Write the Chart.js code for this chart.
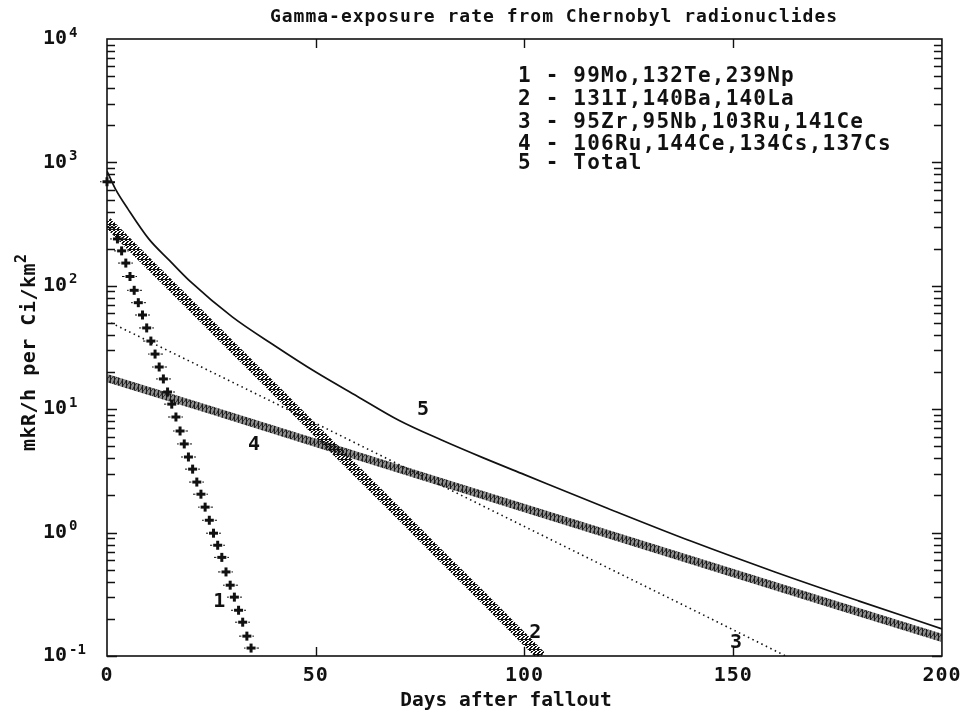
<!DOCTYPE html>
<html>
<head>
<meta charset="utf-8">
<script src="https://cdn.jsdelivr.net/npm/chart.js@4.4.1/dist/chart.umd.min.js"></script>
<style>
  html, body { margin: 0; padding: 0; background: #fff; }
  #wrap { width: 968px; height: 726px; }
</style>
</head>
<body>
<div id="wrap"><canvas id="chart"></canvas></div>
<script>
// ======================= DATA =======================

// 1 - 99Mo,132Te,239Np  (one '+' marker per day)
const days1 = [0, 2.5, 3.5, 4.5, 5.5, 6.5, 7.5, 8.5, 9.5, 10.5, 11.5, 12.5, 13.5, 14.5, 15.5, 16.5, 17.5,
  18.5, 19.5, 20.5, 21.5, 22.5, 23.5, 24.5, 25.5, 26.5, 27.5, 28.5, 29.5, 30.5, 31.5, 32.5, 33.5, 34.5];
const vals1 = [697, 240, 192, 153, 119, 92, 73, 58, 45.6, 35.7, 28.0, 22.0, 17.6, 13.8, 11.0, 8.65, 6.66,
  5.23, 4.10, 3.27, 2.57, 2.05, 1.61, 1.26, 0.99, 0.79, 0.63, 0.48, 0.375, 0.30, 0.235, 0.188, 0.145, 0.116];

// 2 - 131I,140Ba,140La
const days2 = [0, 10, 20, 30, 40, 50, 60, 70, 80, 90, 100, 104];
const vals2 = [330, 151, 69.5, 31.9, 14.7, 6.73, 3.09, 1.42, 0.65, 0.30, 0.137, 0.100];

// 3 - 95Zr,95Nb,103Ru,141Ce
const days3 = [1, 20, 40, 60, 80, 100, 120, 140, 162.6];
const vals3 = [50, 24.3, 11.3, 5.22, 2.42, 1.12, 0.518, 0.240, 0.100];

// 4 - 106Ru,144Ce,134Cs,137Cs
const days4 = [0, 25, 50, 75, 100, 125, 150, 175, 200];
const vals4 = [17.9, 9.8, 5.33, 2.90, 1.58, 0.86, 0.47, 0.256, 0.14];

// 5 - Total
const days5 = [0, 2, 5, 10, 15, 20, 30, 40, 50, 60, 70, 80, 90, 100, 120, 140, 160, 180, 200];
const vals5 = [850, 610, 420, 240, 160, 108, 56, 33, 20, 12.7, 8.1, 5.65, 4.05, 2.95, 1.57, 0.85, 0.48, 0.28, 0.166];

const yTicks = [0.1, 1, 10, 100, 1000, 10000];
const xTicks = [0, 50, 100, 150, 200];

const legendLines = [
  '1 - 99Mo,132Te,239Np',
  '2 - 131I,140Ba,140La',
  '3 - 95Zr,95Nb,103Ru,141Ce',
  '4 - 106Ru,144Ce,134Cs,137Cs',
  '5 - Total'
];

// ======================= STYLE HELPERS =======================

const ink = '#111';
const mono = '"DejaVu Sans Mono", "Liberation Mono", monospace';
const ctx = document.getElementById('chart').getContext('2d');

function makeTile(w, h, draw) {
  const c = document.createElement('canvas');
  c.width = w; c.height = h;
  draw(c.getContext('2d'));
  return c;
}

// band of little "2" glyphs (dense, dark)
const twoPattern = ctx.createPattern(makeTile(4, 5, g => {
  g.fillStyle = ink;
  g.fillRect(1, 0, 2, 1);
  g.fillRect(0, 1, 1, 1);
  g.fillRect(3, 1, 1, 1);
  g.fillRect(2, 2, 2, 1);
  g.fillRect(1, 3, 2, 1);
  g.fillRect(0, 4, 4, 1);
}), 'repeat');

// band of hatched "4"/x glyphs
const fourPattern = ctx.createPattern(makeTile(4, 6, g => {
  g.fillStyle = '#8c8c8c';
  g.fillRect(0, 0, 4, 6);
  g.strokeStyle = '#1a1a1a';
  g.lineWidth = 1;
  g.beginPath();
  g.moveTo(0.5, 6); g.lineTo(3.5, 0);
  g.moveTo(2.5, 0); g.lineTo(2.5, 6);
  g.stroke();
}), 'repeat');

// bold '+' marker with little side dots
const plusMarker = makeTile(15, 11, g => {
  g.fillStyle = ink;
  g.fillRect(6, 1, 3, 9);
  g.fillRect(3, 4, 9, 3);
  g.fillRect(0, 5, 2, 1);
  g.fillRect(13, 5, 2, 1);
});

const toXY = (xs, ys) => xs.map((d, i) => ({ x: d, y: ys[i] }));

// ======================= PLUGINS =======================

// frame with inward log ticks on both sides, y tick labels
const framePlugin = {
  id: 'frame',
  beforeDraw(chart) {
    chart.ctx.letterSpacing = '1px';
  },
  afterDatasetsDraw(chart) {
    const { ctx, chartArea: a, scales: { x, y } } = chart;
    ctx.save();
    ctx.strokeStyle = ink;
    ctx.lineWidth = 1.6;
    ctx.strokeRect(a.left, a.top, a.right - a.left, a.bottom - a.top);
    ctx.lineWidth = 1.4;
    ctx.beginPath();
    for (let e = -1; e < 4; e++) {
      for (let m = 1; m < 10; m++) {
        const py = Math.round(y.getPixelForValue(m * Math.pow(10, e))) + 0.5;
        const len = m === 1 ? 10 : 8;
        ctx.moveTo(a.left, py); ctx.lineTo(a.left + len, py);
        ctx.moveTo(a.right, py); ctx.lineTo(a.right - len, py);
      }
    }
    [50, 100, 150].forEach(d => {
      const px = Math.round(x.getPixelForValue(d)) + 0.5;
      ctx.moveTo(px, a.bottom); ctx.lineTo(px, a.bottom - 9);
      ctx.moveTo(px, a.top); ctx.lineTo(px, a.top + 9);
    });
    ctx.stroke();

    // "10" with a raised exponent, at the scale's tick pixels
    ctx.fillStyle = ink;
    ctx.textBaseline = 'middle';
    ctx.letterSpacing = '0px';
    ctx.textAlign = 'left';
    y.ticks.forEach(t => {
      const py = y.getPixelForValue(t.value);
      ctx.font = 'bold 20px ' + mono;
      ctx.fillText('10', 43, py);
      ctx.font = 'bold 14px ' + mono;
      ctx.fillText(String(Math.round(Math.log10(t.value))), 69, py - 6);
    });
    ctx.restore();
  }
};

// title, legend block, curve numbers, axis titles
const textPlugin = {
  id: 'texts',
  afterDraw(chart) {
    const { ctx, scales: { x, y } } = chart;
    ctx.save();
    ctx.fillStyle = ink;
    ctx.textBaseline = 'middle';

    ctx.font = 'bold 18px ' + mono;
    ctx.letterSpacing = '1px';
    ctx.textAlign = 'center';
    ctx.fillText('Gamma-exposure rate from Chernobyl radionuclides', 554, 17);

    ctx.font = 'bold 21px ' + mono;
    ctx.letterSpacing = '1.2px';
    ctx.textAlign = 'left';
    const legendY = [77, 100, 123, 145, 164];
    legendLines.forEach((s, i) => ctx.fillText(s, 518, legendY[i]));

    const curveLabels = [
      ['1', 26.9, 0.273], ['2', 102.6, 0.155], ['3', 150.7, 0.128],
      ['4', 35.2, 5.13], ['5', 75.7, 9.87]
    ];
    ctx.font = 'bold 20px ' + mono;
    ctx.textAlign = 'center';
    ctx.letterSpacing = '0px';
    curveLabels.forEach(([t, d, v]) => {
      ctx.fillText(t, x.getPixelForValue(d), y.getPixelForValue(v));
    });

    ctx.font = 'bold 19.5px ' + mono;
    ctx.fillText('Days after fallout', 506, 701);

    ctx.translate(30, 352);
    ctx.rotate(-Math.PI / 2);
    ctx.font = 'bold 20px ' + mono;
    ctx.letterSpacing = '0.5px';
    ctx.textAlign = 'left';
    const base = 'mkR/h per Ci/km';
    const w = ctx.measureText(base).width;
    const w2 = 10;
    ctx.fillText(base, -(w + w2) / 2, 0);
    ctx.font = 'bold 15px ' + mono;
    ctx.fillText('2', -(w + w2) / 2 + w, -8);
    ctx.restore();
  }
};

// ======================= CHART =======================

const tickFont = { family: mono, size: 20, weight: 'bold' };

new Chart(ctx, {
  type: 'line',
  data: {
    datasets: [
      {
        label: '1',
        data: toXY(days1, vals1),
        showLine: false,
        pointStyle: plusMarker,
        pointRadius: 5,
        clip: false
      },
      {
        label: '2',
        data: toXY(days2, vals2),
        borderColor: twoPattern,
        borderWidth: 10,
        pointRadius: 0,
        tension: 0
      },
      {
        label: '3',
        data: toXY(days3, vals3),
        borderColor: ink,
        borderWidth: 1.6,
        borderDash: [1.5, 3.5],
        pointRadius: 0,
        tension: 0
      },
      {
        label: '4',
        data: toXY(days4, vals4),
        borderColor: fourPattern,
        borderWidth: 8,
        pointRadius: 0,
        tension: 0
      },
      {
        label: '5',
        data: toXY(days5, vals5),
        borderColor: ink,
        borderWidth: 1.7,
        pointRadius: 0,
        cubicInterpolationMode: 'monotone'
      }
    ]
  },
  options: {
    responsive: true,
    maintainAspectRatio: false,
    animation: false,
    devicePixelRatio: 1,
    layout: { padding: { top: 39, right: 21, left: 0, bottom: 0 } },
    plugins: {
      legend: { display: false },
      tooltip: { enabled: false }
    },
    scales: {
      x: {
        type: 'linear',
        min: 0,
        max: 200,
        afterBuildTicks: s => { s.ticks = xTicks.map(v => ({ value: v })); },
        afterFit: s => { s.height = 70; },
        grid: { display: false, drawTicks: false },
        border: { display: false },
        ticks: { color: ink, font: tickFont, padding: 8, maxRotation: 0 }
      },
      y: {
        type: 'logarithmic',
        min: 0.1,
        max: 10000,
        afterBuildTicks: s => { s.ticks = yTicks.map(v => ({ value: v })); },
        afterFit: s => { s.width = 107; },
        grid: { display: false, drawTicks: false },
        border: { display: false },
        ticks: { display: false }
      }
    }
  },
  plugins: [framePlugin, textPlugin]
});
</script>
</body>
</html>
